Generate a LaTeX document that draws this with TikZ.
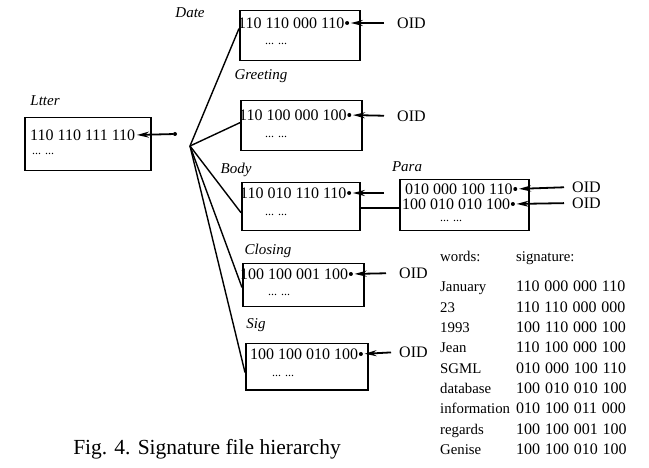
\documentclass[tikz,border=0pt]{standalone}
\usepackage{fontspec}
\setmainfont{Liberation Serif}
\usetikzlibrary{arrows.meta,calc}
\newcommand\mysigfont{\fontsize{16}{18}\selectfont\spaceskip=0.3em\relax}
\begin{document}
\begin{tikzpicture}[x=1pt,y=-1pt,
  box/.style={draw,line width=1.5pt,rectangle,inner sep=0,anchor=north west},
  entry/.style={inner sep=0,anchor=west,font=\fontsize{16}{18}\selectfont},
  dots/.style={inner sep=0,anchor=west,font=\fontsize{12}{14}\selectfont},
  lab/.style={inner sep=0,font=\itshape\fontsize{15}{17}\selectfont},
  oid/.style={inner sep=0,anchor=west,font=\fontsize{16}{18}\selectfont},
  tab/.style={inner sep=0,anchor=base west,font=\fontsize{14.8}{17}\selectfont},
  sigtab/.style={inner sep=0,anchor=base west,font=\mysigfont},
  ptr/.style={line width=1.8pt,-{Stealth[length=12pt,width=6pt]},shorten >=1.5pt},
  fan/.style={line width=1.4pt},
  link/.style={line width=1.4pt},
  dotmark/.style={circle,fill,inner sep=0,minimum size=4pt}
]
\useasboundingbox (0,0) rectangle (649,468);

% Letter
\node[lab] (lLtr) at (45,101) {Ltter};
\node[box,minimum width=126pt,minimum height=53pt] (ltr) at (24,117) {};
\node[entry] (ltrE) at (30,135) {110 110 111 110};
\node[dots] (ltrD) at (32,154) {... ...};
\node[dotmark] (ltrP) at (175,134) {};
\draw[ptr] (ltrP) -- (ltrE.east);
\coordinate (F) at (190,146);

% Date
\node[lab] (lDate) at (190,13) {Date};
\node[box,minimum width=120pt,minimum height=50pt] (date) at (239,10) {};
\node[entry] (dateE) at (238,23) {110 110 000 110};
\node[dots] (dateD) at (265,44) {... ...};
\node[dotmark] (dateP) at ($(dateE.east)+(2.5,0)$) {};
\node[oid] (dateO) at (397,23) {OID};
\draw[ptr,shorten <=13pt] (dateO.west) -- (dateP);

% Greeting
\node[lab] (lGreet) at (261,76) {Greeting};
\node[box,minimum width=121pt,minimum height=50pt] (greet) at (240,100) {};
\node[entry] (greetE) at (239,115) {110 100 000 100};
\node[dots] (greetD) at (265,137) {... ...};
\node[dotmark] (greetP) at ($(greetE.east)+(2.5,0)$) {};
\node[oid] (greetO) at (397,116) {OID};
\draw[ptr,shorten <=13pt] (greetO.west) -- (greetP);

% Body
\node[lab] (lBody) at (236,170) {Body};
\node[box,minimum width=118pt,minimum height=48pt] (body) at (241,182) {};
\node[entry] (bodyE) at (240,193) {110 010 110 110};
\node[dots] (bodyD) at (265,215) {... ...};
\node[dotmark] (bodyP) at ($(bodyE.east)+(2.5,0)$) {};
\coordinate (bodyT) at (384,193);
\draw[ptr] (bodyT) -- (bodyP);

% Para
\node[lab] (lPara) at (407,167) {Para};
\node[box,minimum width=129pt,minimum height=51pt] (para) at (399,179) {};
\node[entry] (paraE1) at (405,189) {010 000 100 110};
\node[entry] (paraE2) at (402,204) {100 010 010 100};
\node[dots] (paraD) at (440,221) {... ...};
\node[dotmark] (paraP1) at ($(paraE1.east)+(2.5,0)$) {};
\node[dotmark] (paraP2) at ($(paraE2.east)+(2.5,0)$) {};
\node[oid] (paraO1) at (572,187) {OID};
\node[oid] (paraO2) at (572,203) {OID};
\draw[ptr,shorten <=8pt] (paraO1.west) -- (paraP1);
\draw[ptr,shorten <=8pt] (paraO2.west) -- (paraP2);
\draw[link] (body.east |- 0,208) -- (para.west |- 0,208);

% Closing
\node[lab] (lClos) at (268,251) {Closing};
\node[box,minimum width=121pt,minimum height=43pt] (clos) at (242,263) {};
\node[entry] (closE) at (240,274) {100 100 001 100};
\node[dots] (closD) at (268,295) {... ...};
\node[dotmark] (closP) at ($(closE.east)+(2.5,0)$) {};
\node[oid] (closO) at (399,273) {OID};
\draw[ptr,shorten <=13pt] (closO.west) -- (closP);

% Sig
\node[lab] (lSig) at (256,325) {Sig};
\node[box,minimum width=122pt,minimum height=46pt] (sig) at (245,343) {};
\node[entry] (sigE) at (250,354) {100 100 010 100};
\node[dots] (sigD) at (272,376) {... ...};
\node[dotmark] (sigP) at ($(sigE.east)+(2.5,0)$) {};
\node[oid] (sigO) at (399,352) {OID};
\draw[ptr,shorten <=8pt] (sigO.west) -- (sigP);

% fan
\draw[fan] (F) -- ($(date.north west)!0.36!(date.south west)$);
\draw[fan] (F) -- ($(greet.north west)!0.44!(greet.south west)$);
\draw[fan] (F) -- ($(body.north west)!0.62!(body.south west)$);
\draw[fan] (F) -- ($(clos.north west)!0.55!(clos.south west)$);
\draw[fan] (F) -- ($(sig.north west)!0.62!(sig.south west)$);

% table
\node[tab] (hW) at (440,262) {words:};
\node[tab] (hS) at (516,262) {signature:};
\foreach \w/\s [count=\i from 0] in {January/110 000 000 110,23/110 110 000 000,1993/100 110 000 100,Jean/110 100 000 100,SGML/010 000 100 110,database/100 010 010 100,information/010 100 011 000,regards/100 100 001 100,Genise/100 100 010 100}{
  \node[tab] (w\i) at (440,{292+20.3*\i}) {\w};
  \node[sigtab] (s\i) at (516,{292+20.3*\i}) {\s};
}

% caption
\node[inner sep=0,font=\fontsize{21.5}{24}\selectfont] (cap) at (207,449) {Fig. 4. Signature file hierarchy};
\end{tikzpicture}
\end{document}
